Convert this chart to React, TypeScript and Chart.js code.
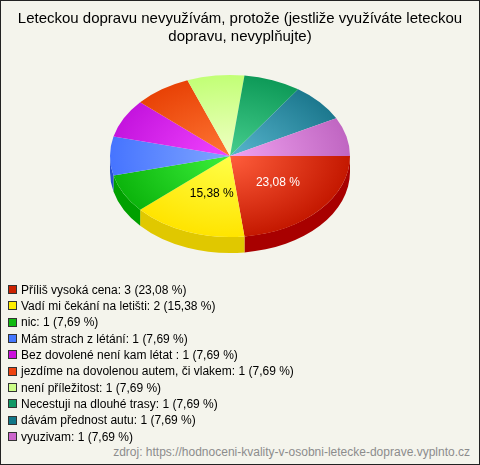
import React, { useEffect, useRef } from "react";
import { Chart, registerables } from "chart.js";

Chart.register(...registerables);

const TITLE = [
  "Leteckou dopravu nevyužívám, protože (jestliže využíváte leteckou",
  "dopravu, nevyplňujte)",
];

const CATEGORIES = [
  "Příliš vysoká cena",
  "Vadí mi čekání na letišti",
  "nic",
  "Mám strach z létání",
  "Bez dovolené není kam létat ",
  "jezdíme na dovolenou autem, či vlakem",
  "není příležitost",
  "Necestuji na dlouhé trasy",
  "dávám přednost autu",
  "vyuzivam",
];

const VALUES = [3, 2, 1, 1, 1, 1, 1, 1, 1, 1];

const LIGHT = ["#FF5E3C", "#FFFF48", "#3CF03C", "#80A6FF", "#F244FF", "#FF7634", "#F0FFC4", "#46CE8E", "#58B6CE", "#F0A2F0"];
const DARK = ["#C41800", "#FFE400", "#0CB40C", "#4674FF", "#C414DE", "#E84206", "#C2FF76", "#0E9A58", "#1C788E", "#C066C2"];
const SIDE = ["#A80000", "#E0C800", "#00A000", "#2850D0", "#9010A0", "#B83000", "#A0D060", "#087040", "#105868", "#A050A0"];
const LEGEND_COLORS = ["#CC2200", "#FFEE00", "#11BB11", "#4477FF", "#CC11DD", "#EE4411", "#CCFF88", "#119966", "#117788", "#CC66CC"];
const LABEL_COLORS = ["#FFFFFF", "#000000", "#000000", "#000000", "#000000", "#000000", "#000000", "#000000", "#000000", "#000000"];

const SOURCE = "zdroj: https://hodnoceni-kvality-v-osobni-letecke-doprave.vyplnto.cz";

const FONT = '"Liberation Sans", Arial, sans-serif';
const TOTAL = VALUES.reduce((a, b) => a + b, 0);
const pct = (v: number) => ((v / TOTAL) * 100).toFixed(2).replace(".", ",") + " %";

const RADIUS = 120;
const TILT = 81 / 120;
const CENTER_Y = 155;
const SHIFT_X = -10;
const DEPTH = 16;

const pie3d = {
  id: "pie3d",
  beforeDatasetsDraw(chart: any) {
    const ctx = chart.ctx;
    const meta = chart.getDatasetMeta(0);
    meta.data.forEach((el: any, i: number) => {
      const { x, startAngle, endAngle, outerRadius } = el.getProps(
        ["x", "startAngle", "endAngle", "outerRadius"],
        true
      );
      const a0 = Math.max(startAngle, 0);
      const a1 = Math.min(endAngle, Math.PI);
      if (a1 <= a0) return;
      const ry = outerRadius * TILT;
      ctx.save();
      ctx.beginPath();
      ctx.ellipse(x + SHIFT_X, CENTER_Y, outerRadius, ry, 0, a0, a1, false);
      ctx.ellipse(x + SHIFT_X, CENTER_Y + DEPTH, outerRadius, ry, 0, a1, a0, true);
      ctx.closePath();
      ctx.fillStyle = SIDE[i];
      ctx.fill();
      ctx.restore();
    });
  },
  beforeDatasetDraw(chart: any, args: any) {
    const ctx = chart.ctx;
    const el = args.meta.data[0];
    ctx.save();
    ctx.translate(SHIFT_X, CENTER_Y);
    ctx.scale(1, TILT);
    ctx.translate(0, -el.y);
  },
  afterDatasetDraw(chart: any) {
    chart.ctx.restore();
  },
  afterDatasetsDraw(chart: any) {
    const ctx = chart.ctx;
    const meta = chart.getDatasetMeta(0);
    ctx.save();
    ctx.font = "12px " + FONT;
    ctx.textAlign = "center";
    ctx.textBaseline = "middle";
    meta.data.forEach((el: any, i: number) => {
      if (VALUES[i] / TOTAL < 0.1) return;
      const { x, startAngle, endAngle, outerRadius } = el.getProps(
        ["x", "startAngle", "endAngle", "outerRadius"],
        true
      );
      const m = (startAngle + endAngle) / 2;
      const px = x + SHIFT_X + 0.5 * outerRadius * Math.cos(m) + 3;
      const py = CENTER_Y + 0.5 * outerRadius * TILT * Math.sin(m);
      ctx.fillStyle = LABEL_COLORS[i];
      ctx.fillText(pct(VALUES[i]), px, py);
    });
    ctx.restore();
  },
};

export default function App() {
  const ref = useRef<HTMLCanvasElement>(null);

  useEffect(() => {
    if (!ref.current) return;
    const chart = new Chart(ref.current, {
      type: "pie",
      data: {
        labels: CATEGORIES,
        datasets: [
          {
            data: VALUES,
            borderWidth: 0,
            clip: false as any,
            backgroundColor: (c: any) => {
              const i = c.dataIndex ?? 0;
              const ca = c.chart.chartArea;
              if (!ca) return DARK[i];
              const x = (ca.left + ca.right) / 2;
              const y = (ca.top + ca.bottom) / 2;
              const g = c.chart.ctx.createRadialGradient(x, y, 0, x, y, RADIUS);
              g.addColorStop(0, LIGHT[i]);
              g.addColorStop(1, DARK[i]);
              return g;
            },
          } as any,
        ],
      },
      options: {
        responsive: false,
        animation: false,
        events: [],
        radius: RADIUS,
        rotation: 90,
        layout: { padding: 0 },
        plugins: {
          legend: { display: false },
          tooltip: { enabled: false },
          title: {
            display: true,
            text: TITLE,
            color: "#000000",
            font: { family: FONT, size: 15, weight: "normal" as any, lineHeight: 1.2 },
            padding: { top: 9, bottom: 10 },
          },
        },
      } as any,
      plugins: [pie3d],
    });
    return () => chart.destroy();
  }, []);

  return (
    <div
      style={{
        position: "absolute",
        left: 0,
        top: 0,
        width: 480,
        height: 465,
        boxSizing: "border-box",
        border: "1px solid #222",
        background: "#F4F4EC",
        fontFamily: FONT,
        overflow: "hidden",
      }}
    >
      <canvas ref={ref} width={478} height={300} style={{ position: "absolute", left: 0, top: 0 }} />
      {CATEGORIES.map((c, i) => (
        <React.Fragment key={i}>
          <div
            style={{
              position: "absolute",
              left: 7,
              top: 284 + i * 16.33,
              width: 9,
              height: 9,
              boxSizing: "border-box",
              border: "1px solid #333",
              background: LEGEND_COLORS[i],
            }}
          />
          <div
            style={{
              position: "absolute",
              left: 20,
              top: 280.7 + i * 16.33,
              fontSize: 12,
              lineHeight: "16.3px",
              color: "#000",
              whiteSpace: "nowrap",
            }}
          >
            {c + ": " + VALUES[i] + " (" + pct(VALUES[i]) + ")"}
          </div>
        </React.Fragment>
      ))}
      <div
        style={{
          position: "absolute",
          right: 9,
          top: 443.8,
          fontSize: 12,
          lineHeight: "14px",
          color: "#8C8C8C",
          whiteSpace: "nowrap",
        }}
      >
        {SOURCE}
      </div>
    </div>
  );
}
